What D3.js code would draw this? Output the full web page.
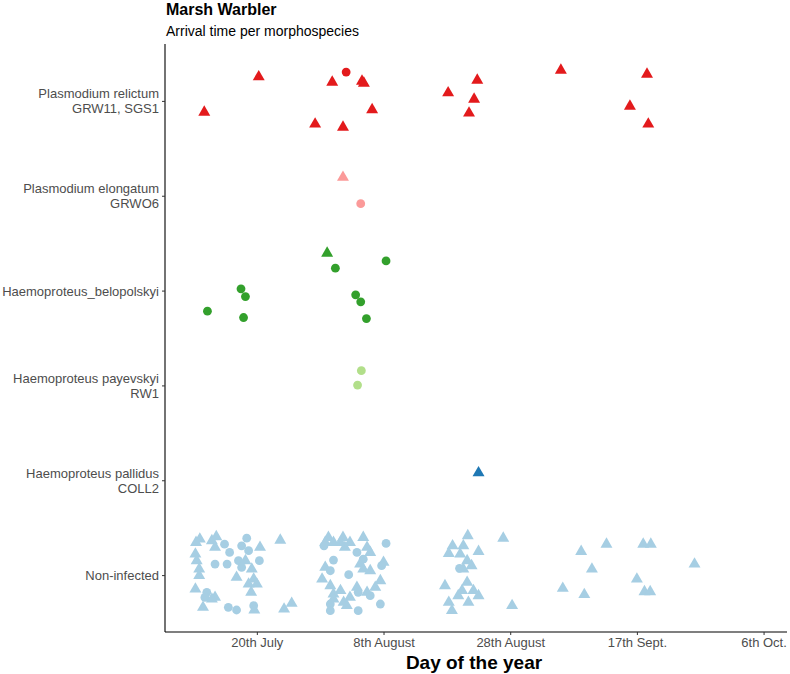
<!DOCTYPE html>
<html>
<head>
<meta charset="utf-8">
<script src="https://cdn.jsdelivr.net/npm/d3@7"></script>
<style>
  body { margin: 0; background: #fff; }
  text { font-family: "Liberation Sans", Arial, sans-serif; }
</style>
</head>
<body>
<div id="container"></div>
<script>
const w = 790, h = 674;

// categories top to bottom
const groups = ['relictum', 'elongatum', 'belopolskyi', 'payevskyi', 'pallidus', 'none'];
const groupLabels = [
  ['Plasmodium relictum', 'GRW11, SGS1'],
  ['Plasmodium elongatum', 'GRWO6'],
  ['Haemoproteus_belopolskyi'],
  ['Haemoproteus payevskyi', 'RW1'],
  ['Haemoproteus pallidus', 'COLL2'],
  ['Non-infected']
];
const groupColors = ['#E31A1C', '#FB9A99', '#33A02C', '#B2DF8A', '#1F78B4', '#A6CEE3'];

const dayTicks = [200, 220, 240, 260, 280];
const dayLabels = ['20th July', '8th August', '28th August', '17th Sept.', '6th Oct.'];

// [day of year, jitter (category units, up = +), shape T/C]
const relictum = [
  [200.3, 0.254, 'T'], [214.1, 0.304, 'C'], [211.9, 0.197, 'T'], [216.6, 0.207, 'T'],
  [216.9, 0.186, 'T'], [218.2, -0.093, 'T'], [191.7, -0.119, 'T'], [209.2, -0.245, 'T'],
  [213.6, -0.277, 'T'], [230.2, 0.085, 'T'], [234.8, 0.218, 'T'], [234.3, 0.018, 'T'],
  [233.5, -0.129, 'T'], [248.0, 0.323, 'T'], [261.6, 0.281, 'T'], [258.9, -0.056, 'T'],
  [261.8, -0.245, 'T']
];
const elongatum = [[213.6, 0.194, 'T'], [216.4, -0.084, 'C']];
const belopolskyi = [
  [211.1, 0.394, 'T'], [212.4, 0.236, 'C'], [220.4, 0.313, 'C'], [215.6, -0.045, 'C'],
  [216.4, -0.119, 'C'], [217.3, -0.295, 'C'], [197.5, 0.018, 'C'], [198.2, -0.063, 'C'],
  [192.2, -0.217, 'C'], [197.9, -0.284, 'C']
];
const payevskyi = [[216.5, 0.155, 'C'], [215.9, 0.004, 'C']];
const pallidus = [[235.0, 0.078, 'T']];
const nonInfected = [
  // late July cluster
  [191.0, 0.379, 'T'], [190.4, 0.344, 'T'], [192.9, 0.362, 'T'], [193.6, 0.404, 'T'],
  [193.4, 0.292, 'T'], [194.9, 0.326, 'C'], [195.7, 0.239, 'C'], [198.4, 0.389, 'C'],
  [197.6, 0.309, 'C'], [198.7, 0.257, 'C'], [200.5, 0.292, 'T'], [200.4, 0.152, 'C'],
  [203.7, 0.368, 'T'], [190.3, 0.221, 'T'], [190.5, 0.152, 'T'], [190.9, 0.063, 'T'],
  [190.9, -0.006, 'T'], [193.4, 0.116, 'C'], [195.3, 0.116, 'C'], [197.1, 0.152, 'C'],
  [197.6, 0.081, 'C'], [198.2, 0.152, 'T'], [199.2, 0.063, 'T'], [196.8, -0.024, 'T'],
  [199.5, -0.042, 'T'], [198.7, -0.095, 'T'], [200.0, -0.095, 'T'], [199.1, -0.182, 'T'],
  [190.3, -0.147, 'T'], [192.1, -0.182, 'C'], [191.8, -0.235, 'C'], [193.4, -0.235, 'T'],
  [192.9, -0.253, 'T'], [191.5, -0.340, 'T'], [195.5, -0.340, 'C'], [196.8, -0.368, 'C'],
  [199.5, -0.322, 'C'], [199.6, -0.368, 'T'], [204.3, -0.358, 'T'], [205.5, -0.298, 'T'],
  // early August cluster
  [211.3, 0.397, 'T'], [210.8, 0.344, 'T'], [210.6, 0.309, 'C'], [212.1, 0.344, 'T'],
  [213.6, 0.397, 'T'], [213.2, 0.344, 'T'], [213.9, 0.292, 'T'], [214.7, 0.344, 'T'],
  [216.8, 0.397, 'T'], [220.4, 0.334, 'C'], [217.4, 0.292, 'T'], [215.8, 0.239, 'C'],
  [217.9, 0.239, 'T'], [212.1, 0.158, 'C'], [220.0, 0.134, 'T'], [219.7, 0.099, 'C'],
  [216.8, 0.168, 'C'], [216.3, 0.116, 'T'], [216.8, 0.063, 'T'], [217.9, 0.046, 'T'],
  [210.8, 0.081, 'T'], [211.6, 0.046, 'C'], [210.3, -0.042, 'T'], [214.5, 0.004, 'C'],
  [211.6, -0.112, 'T'], [213.2, -0.164, 'T'], [212.1, -0.200, 'T'], [215.8, -0.129, 'T'],
  [216.0, -0.182, 'C'], [214.7, -0.235, 'T'], [217.4, -0.182, 'T'], [219.5, -0.059, 'T'],
  [218.7, -0.129, 'T'], [217.9, -0.217, 'C'], [213.7, -0.287, 'T'], [211.6, -0.305, 'C'],
  [214.2, -0.322, 'T'], [219.5, -0.305, 'C'], [216.0, -0.375, 'C'], [211.6, -0.375, 'C'],
  [212.1, -0.253, 'T'],
  // late August cluster
  [233.3, 0.415, 'T'], [238.9, 0.389, 'T'], [230.9, 0.309, 'T'], [232.6, 0.309, 'T'],
  [230.3, 0.228, 'T'], [232.1, 0.221, 'T'], [235.0, 0.249, 'T'], [233.2, 0.152, 'T'],
  [233.9, 0.099, 'T'], [232.0, 0.071, 'C'], [232.6, 0.063, 'T'], [229.7, -0.112, 'T'],
  [233.2, -0.077, 'T'], [232.4, -0.164, 'T'], [234.2, -0.164, 'T'], [235.0, -0.217, 'T'],
  [231.8, -0.217, 'T'], [233.4, -0.287, 'T'], [230.3, -0.287, 'T'], [230.8, -0.375, 'T'],
  [240.3, -0.322, 'T'],
  // September
  [251.2, 0.249, 'T'], [255.2, 0.326, 'T'], [261.0, 0.326, 'T'], [262.2, 0.326, 'T'],
  [252.9, 0.063, 'T'], [269.1, 0.116, 'T'], [260.0, -0.042, 'T'], [248.3, -0.140, 'T'],
  [251.7, -0.206, 'T'], [261.2, -0.175, 'T'], [262.1, -0.175, 'T']
];
const groupData = [relictum, elongatum, belopolskyi, payevskyi, pallidus, nonInfected];

const plotL = 165, plotR = 787, plotT = 44, plotB = 632;

const xScale = d3.scaleLinear().domain([185.5, 283.7]).range([plotL, plotR]);
const yScale = d3.scalePoint().domain(groups).range([plotT, plotB]).padding(0.6);

const svg = d3.select('#container').append('svg')
  .attr('width', w).attr('height', h);

// title + subtitle
svg.append('text').attr('x', 166).attr('y', 15)
  .attr('font-size', 16).attr('font-weight', 'bold').attr('fill', '#000')
  .text('Marsh Warbler');
svg.append('text').attr('x', 166).attr('y', 36)
  .attr('font-size', 14).attr('fill', '#000')
  .text('Arrival time per morphospecies');

// points
const points = [];
groupData.forEach((arr, i) => arr.forEach(d => points.push({ g: groups[i], c: groupColors[i], day: d[0], jit: d[1], shape: d[2] })));

const tri = d3.symbol().type(d3.symbolTriangle).size(62);
const pts = svg.append('g');
points.forEach(p => {
  const px = xScale(p.day), py = yScale(p.g) - p.jit * yScale.step();
  if (p.shape === 'C') {
    pts.append('circle').attr('cx', px).attr('cy', py).attr('r', 4.4).attr('fill', p.c);
  } else {
    pts.append('path').attr('d', tri).attr('transform', `translate(${px},${py})`).attr('fill', p.c);
  }
});

// x axis
const xAxis = d3.axisBottom(xScale).tickValues(dayTicks)
  .tickFormat((d, i) => dayLabels[i]).tickSize(3).tickSizeOuter(0).tickPadding(3);
const gx = svg.append('g').attr('transform', `translate(0,${plotB})`).call(xAxis);
gx.select('.domain').attr('stroke', '#000').attr('stroke-width', 1.1).attr('d', `M${plotL},0H${plotR}`);
gx.selectAll('.tick line').attr('stroke', '#333');
gx.selectAll('.tick text').attr('fill', '#4D4D4D').attr('font-size', 13)
  .attr('font-family', '"Liberation Sans", Arial, sans-serif');

// y axis
const yAxis = d3.axisLeft(yScale).tickSize(3).tickSizeOuter(0).tickFormat('');
const gy = svg.append('g').attr('transform', `translate(${plotL},0)`).call(yAxis);
gy.select('.domain').attr('stroke', '#000').attr('stroke-width', 1.1).attr('d', `M0,${plotT}V${plotB}`);
gy.selectAll('.tick line').attr('stroke', '#333');
gy.selectAll('.tick').each(function (d, i) {
  const lines = groupLabels[i];
  const t = d3.select(this).append('text')
    .attr('x', -6).attr('text-anchor', 'end').attr('fill', '#4D4D4D')
    .attr('font-size', 13).attr('font-family', '"Liberation Sans", Arial, sans-serif');
  const lh = 15, y0 = -(lines.length - 1) * lh / 2;
  lines.forEach((s, k) => t.append('tspan').attr('x', -6).attr('y', y0 + k * lh).attr('dy', '0.35em').text(s));
});

// x axis title
svg.append('text').attr('x', (plotL + plotR) / 2 - 2).attr('y', 669)
  .attr('text-anchor', 'middle').attr('font-size', 19).attr('font-weight', 'bold')
  .text('Day of the year');
</script>
</body>
</html>
